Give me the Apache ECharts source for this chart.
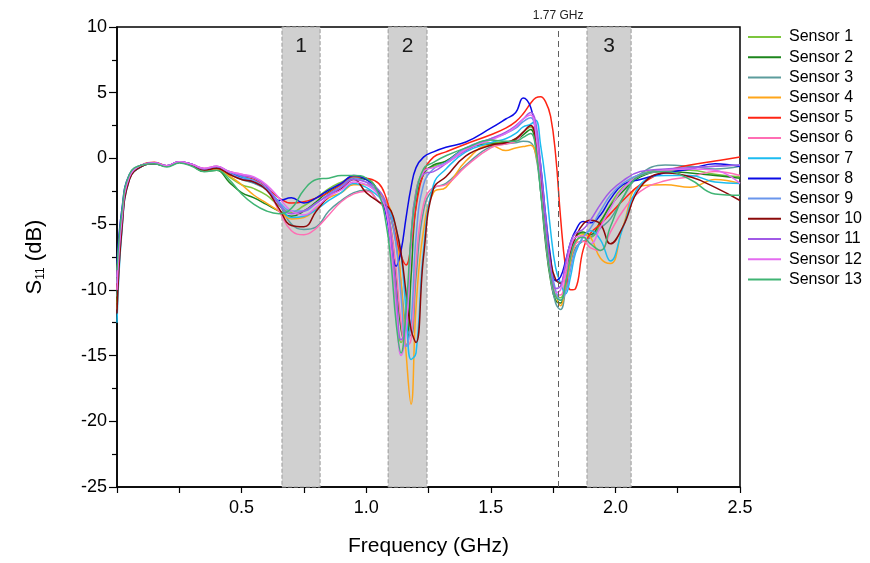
<!DOCTYPE html>
<html>
<head>
<meta charset="utf-8">
<script src="https://cdn.jsdelivr.net/npm/echarts@6/dist/echarts.min.js"></script>
<style>
html,body{margin:0;padding:0;background:#fff;}
#chart{width:870px;height:563px;}
</style>
</head>
<body>
<div id="chart"></div>
<script>
// Frequency grid (GHz)
const freq = [0, 0.02, 0.05, 0.1, 0.15, 0.2, 0.25, 0.3, 0.35, 0.4,
  0.45, 0.5, 0.55, 0.6, 0.65, 0.7, 0.75, 0.8, 0.85, 0.9,
  0.95, 1.0, 1.05, 1.08, 1.1, 1.12, 1.14, 1.16, 1.18, 1.2,
  1.23, 1.27, 1.32, 1.4, 1.5, 1.56, 1.6, 1.63, 1.66, 1.68,
  1.7, 1.72, 1.74, 1.76, 1.78, 1.8, 1.82, 1.84, 1.87, 1.9,
  1.94, 1.98, 2.03, 2.1, 2.2, 2.3, 2.4, 2.5];

// S11 (dB) per sensor
const sensor1 = [-9.5, -4.3, -1.3, -0.5, -0.35, -0.6, -0.3, -0.5, -0.9, -0.8,
  -1.4, -2.0, -2.3, -2.8, -3.6, -4.1, -3.6, -3.0, -2.3, -1.8,
  -1.4, -1.5, -2.6, -4.0, -6.5, -11.0, -14.0, -12.5, -6.0, -2.5,
  -1.0, -0.6, -0.2, 0.7, 1.2, 1.2, 1.5, 2.0, 2.4, 1.3,
  -2.0, -6.0, -9.0, -10.4, -10.6, -9.2, -7.2, -6.0, -5.7, -6.0,
  -5.0, -3.5, -2.2, -1.2, -0.9, -0.9, -1.2, -1.4];
const sensor2 = [-11, -5.0, -1.5, -0.6, -0.4, -0.6, -0.3, -0.55, -1.0, -0.9,
  -1.8, -2.6, -3.0, -3.5, -4.0, -4.4, -4.0, -3.3, -2.5, -2.0,
  -1.5, -1.6, -2.5, -3.8, -5.5, -9.0, -13.0, -14.3, -9.0, -3.5,
  -1.2, -0.5, -0.2, 0.8, 1.1, 1.2, 1.4, 1.8, 2.2, 1.0,
  -2.5, -6.5, -9.3, -10.8, -11.0, -9.5, -7.2, -6.0, -5.6, -5.8,
  -4.8, -3.6, -2.5, -1.4, -1.0, -1.1, -1.3, -1.5];
const sensor3 = [-10.5, -4.8, -1.4, -0.55, -0.4, -0.6, -0.3, -0.5, -0.9, -0.8,
  -1.2, -1.6, -1.9, -2.4, -3.5, -5.0, -5.4, -5.2, -4.0, -3.2,
  -2.6, -2.4, -3.3, -3.8, -4.6, -6.5, -9.5, -12.8, -13.5, -9.0,
  -4.0, -2.3, -1.9, -0.5, 0.9, 1.1, 1.2, 1.3, 1.2, 0.3,
  -2.5, -6.0, -9.0, -11.0, -11.5, -10.0, -8.0, -6.8, -6.3, -6.0,
  -5.3, -4.6, -3.0, -1.2, -0.5, -0.6, -0.8, -0.6];
const sensor4 = [-11.5, -5.2, -1.5, -0.55, -0.35, -0.6, -0.3, -0.5, -0.9, -0.8,
  -1.3, -2.0, -2.8, -3.4, -4.0, -4.6, -4.5, -3.8, -3.0, -2.6,
  -2.0, -2.0, -2.6, -3.3, -4.0, -5.5, -9.5, -14.8, -18.7, -11.3,
  -5.5, -2.6, -2.2, -0.2, 1.0, 0.6, 0.8, 0.9, 1.0, 0.4,
  -2.0, -5.5, -8.5, -10.3, -11.2, -9.8, -7.8, -6.5, -5.8, -6.0,
  -7.6, -8.0, -5.2, -2.1, -2.0, -2.2, -1.6, -1.9];
const sensor5 = [-10, -4.5, -1.3, -0.5, -0.3, -0.55, -0.25, -0.45, -0.8, -0.65,
  -1.1, -1.4, -1.6, -2.2, -3.0, -3.4, -3.3, -3.0, -2.6, -2.0,
  -1.4, -1.5, -1.9, -3.0, -4.5, -6.0, -7.4, -8.1, -6.6, -3.7,
  -1.1, 0.1, 0.5, 1.1, 1.8, 2.3, 2.8, 3.4, 4.2, 4.6,
  4.7, 4.3, 3.2, 0.3, -4.5, -8.3, -10.0, -9.9, -7.0, -5.7,
  -5.0, -4.2, -3.2, -2.0, -1.0, -0.5, -0.2, 0.1];
const sensor6 = [-9, -4.2, -1.3, -0.5, -0.35, -0.55, -0.25, -0.45, -0.75, -0.6,
  -1.0, -1.2, -1.5, -2.2, -4.0, -5.5, -5.8, -5.3, -4.3, -3.3,
  -2.7, -2.5, -3.3, -4.0, -5.5, -8.5, -12.5, -14.3, -13.8, -8.0,
  -3.5, -2.2, -2.0, -0.6, 0.8, 1.1, 1.3, 2.0, 2.5, 1.5,
  -1.5, -5.0, -8.5, -10.3, -10.4, -9.0, -7.5, -6.5, -6.3, -6.8,
  -7.0, -5.6, -4.0, -2.5, -1.7, -1.4, -1.0, -1.3];
const sensor7 = [-12.5, -5.5, -1.6, -0.6, -0.4, -0.6, -0.3, -0.5, -0.85, -0.7,
  -1.1, -1.4, -1.7, -2.3, -3.3, -4.5, -4.4, -3.9, -3.2, -2.6,
  -1.9, -2.2, -2.9, -3.6, -4.3, -5.3, -7.3, -11.5, -15.3, -14.8,
  -7.0, -2.0, -0.8, 0.5, 1.2, 1.5, 1.9, 2.4, 2.6, 2.9,
  1.0, -1.8, -5.5, -8.3, -9.5, -10.3, -9.0, -7.2, -6.0, -5.5,
  -6.2, -7.8, -5.3, -2.0, -1.3, -1.3, -1.8, -1.9];
const sensor8 = [-8, -3.8, -1.2, -0.5, -0.35, -0.55, -0.25, -0.45, -0.8, -0.7,
  -1.1, -1.5, -1.8, -2.3, -3.2, -3.0, -3.4, -3.0, -2.4, -1.9,
  -1.3, -1.6, -2.6, -4.3, -6.6, -8.2, -7.0, -4.5, -2.2, -0.7,
  0.1, 0.5, 0.85, 1.25, 2.3, 3.0, 3.5, 4.6, 3.9, 2.0,
  -0.5, -4.3, -7.5, -9.3, -9.0, -7.8, -6.4, -5.5, -4.8, -4.9,
  -4.3, -3.1, -2.0, -1.6, -1.1, -0.8, -0.4, -0.6];
const sensor9 = [-9.5, -4.4, -1.3, -0.5, -0.35, -0.55, -0.3, -0.5, -0.85, -0.7,
  -1.1, -1.5, -1.7, -2.3, -3.3, -4.0, -4.0, -3.4, -2.7, -2.1,
  -1.5, -1.8, -2.7, -3.5, -4.5, -6.5, -10.5, -14.3, -12.5, -6.0,
  -2.0, -0.8, -0.3, 0.8, 1.5, 1.9, 2.3, 2.8, 3.1, 2.2,
  -0.8, -4.5, -8.0, -10.0, -10.8, -10.2, -8.5, -7.0, -6.0, -5.3,
  -4.0, -2.8, -1.9, -1.2, -0.9, -0.7, -0.6, -0.5];
const sensor10 = [-11.8, -5.3, -1.6, -0.6, -0.4, -0.6, -0.3, -0.5, -0.9, -0.75,
  -1.2, -1.6, -1.8, -2.4, -3.8, -5.1, -5.2, -4.0, -2.9, -2.3,
  -1.6, -2.6, -3.3, -3.6, -4.0, -5.3, -7.2, -10.2, -13.0, -14.0,
  -7.5, -2.3, -1.4, 0.2, 1.0, 1.2, 1.5, 2.0, 2.5, 1.5,
  -1.5, -5.0, -7.8, -9.2, -9.5, -8.3, -7.0, -6.0, -5.0, -4.7,
  -5.0, -6.5, -5.2, -2.2, -1.1, -1.4, -2.2, -3.2];
const sensor11 = [-9, -4.2, -1.3, -0.5, -0.35, -0.55, -0.25, -0.45, -0.8, -0.6,
  -1.0, -1.3, -1.5, -2.1, -3.5, -4.2, -4.0, -3.4, -2.8, -2.2,
  -1.6, -1.8, -2.4, -3.5, -6.0, -10.0, -13.8, -13.0, -6.0, -2.5,
  -1.2, -1.0, -0.4, 0.6, 1.5, 2.0, 2.5, 3.0, 3.5, 2.8,
  -0.5, -4.8, -8.2, -9.9, -9.7, -8.0, -6.4, -5.7, -5.4, -4.7,
  -3.5, -2.5, -1.7, -1.0, -0.8, -0.7, -0.6, -0.5];
const sensor12 = [-10, -4.6, -1.4, -0.5, -0.35, -0.55, -0.25, -0.45, -0.75, -0.6,
  -1.0, -1.2, -1.4, -2.0, -3.0, -4.0, -4.3, -3.7, -2.9, -2.4,
  -1.8, -2.0, -2.8, -4.0, -7.0, -11.5, -15.0, -13.0, -6.5, -2.8,
  -1.0, -0.7, -0.4, 0.7, 1.4, 1.9, 2.4, 3.0, 3.3, 2.0,
  -2.0, -6.0, -9.0, -10.2, -10.0, -8.5, -6.8, -6.0, -5.9, -6.5,
  -5.2, -3.8, -2.3, -1.3, -0.9, -0.8, -0.9, -1.9];
const sensor13 = [-8.5, -4.0, -1.2, -0.5, -0.4, -0.65, -0.35, -0.6, -1.0, -0.9,
  -1.6, -2.7, -3.5, -4.0, -4.2, -3.8, -2.4, -1.6, -1.5, -1.3,
  -1.3, -1.5, -2.7, -5.0, -8.0, -12.5, -14.8, -11.5, -6.0, -2.8,
  -0.8, -0.3, 0.2, 0.8, 1.4, 1.3, 1.3, 1.6, 1.9, 0.8,
  -2.5, -6.0, -9.0, -10.5, -10.8, -9.5, -7.5, -6.3, -6.0, -6.5,
  -7.0, -5.2, -3.0, -1.3, -1.0, -1.6, -2.7, -2.8];

const sensorNames = ['Sensor 1','Sensor 2','Sensor 3','Sensor 4','Sensor 5','Sensor 6','Sensor 7',
  'Sensor 8','Sensor 9','Sensor 10','Sensor 11','Sensor 12','Sensor 13'];
const sensorValues = [sensor1, sensor2, sensor3, sensor4, sensor5, sensor6, sensor7,
  sensor8, sensor9, sensor10, sensor11, sensor12, sensor13];
const sensorColors = ['#7cc63e','#1c861c','#5c9c9c','#ffa61a','#ff2414','#ff6eb4','#1cbcf0',
  '#0a0ae6','#6a96ec','#8b0a0a','#a05ae6','#e46cf0','#40b474'];

// Highlighted bands (GHz) and marker
const bands = [[0.662, 0.815, '1'], [1.088, 1.244, '2'], [1.886, 2.063, '3']];
const markerFreq = 1.77;
const markerLabel = '1.77 GHz';

const FONT = '"Liberation Sans", Arial, sans-serif';

const series = sensorNames.map((name, k) => ({
  name: name,
  type: 'line',
  smooth: 0.45,
  symbol: 'none',
  z: 3,
  lineStyle: { width: 1.5, color: sensorColors[k] },
  itemStyle: { color: sensorColors[k] },
  data: freq.map((f, i) => [f, sensorValues[k][i]])
}));

series.unshift({
  name: 'bands',
  type: 'line',
  z: 1,
  data: [],
  silent: true,
  markArea: {
    silent: true,
    itemStyle: { color: '#d0d0d0', borderColor: '#9a9a9a', borderWidth: 1, borderType: 'dashed' },
    label: { show: true, position: 'insideTop', distance: 9, fontSize: 21, color: '#1a1a1a', fontFamily: FONT },
    data: bands.map(b => [{ xAxis: b[0], name: b[2] }, { xAxis: b[1] }])
  },
  markLine: {
    silent: true,
    symbol: 'none',
    lineStyle: { type: [6, 4], color: '#606060', width: 1 },
    label: { show: true, position: 'end', formatter: markerLabel, fontSize: 12, color: '#222', fontFamily: FONT, distance: 5 },
    data: [{ xAxis: markerFreq }]
  }
});

const chart = echarts.init(document.getElementById('chart'), null, { renderer: 'canvas' });
chart.setOption({
  animation: false,
  backgroundColor: '#fff',
  textStyle: { fontFamily: FONT },
  grid: { left: 117, right: 130, top: 27, bottom: 76, show: true, borderColor: '#000', borderWidth: 1.5, backgroundColor: 'transparent' },
  legend: {
    data: sensorNames,
    orient: 'vertical',
    left: 748,
    top: 29,
    padding: 0,
    itemGap: 4.2,
    itemWidth: 33,
    itemHeight: 14,
    icon: 'path://M0,6 L33,6 L33,8 L0,8 Z',
    textStyle: { fontSize: 16, lineHeight: 16, color: '#000', fontFamily: FONT, padding: [0, 0, 0, 3] }
  },
  xAxis: {
    type: 'value',
    min: 0, max: 2.5, interval: 0.25,
    name: 'Frequency (GHz)',
    nameLocation: 'middle',
    nameGap: 49,
    nameTextStyle: { fontSize: 21, color: '#000', fontFamily: FONT },
    axisLine: { onZero: false, lineStyle: { color: '#000', width: 1.5 } },
    axisTick: { show: true, length: 6, lineStyle: { color: '#000', width: 1.2 } },
    minorTick: { show: false },
    splitLine: { show: false },
    axisLabel: {
      fontSize: 18, color: '#000', margin: 12, fontFamily: FONT,
      formatter: v => (v > 0 && Math.abs(v * 2 - Math.round(v * 2)) < 1e-6) ? v.toFixed(1) : ''
    }
  },
  yAxis: {
    type: 'value',
    min: -25, max: 10, interval: 5,
    name: '{s|S}{sub|11}{s| (dB)}',
    nameLocation: 'middle',
    nameGap: 70,
    nameRotate: 90,
    nameTextStyle: {
      rich: {
        s: { fontSize: 22, color: '#000', fontFamily: FONT, lineHeight: 24 },
        sub: { fontSize: 12, color: '#000', fontFamily: FONT, verticalAlign: 'bottom', lineHeight: 14, padding: [10, 0, 0, 0] }
      }
    },
    axisLine: { show: true, onZero: false, lineStyle: { color: '#000', width: 1.5 } },
    axisTick: { show: true, length: 8, lineStyle: { color: '#000', width: 1.2 } },
    minorTick: { show: true, splitNumber: 2, length: 5, lineStyle: { color: '#000', width: 1.2 } },
    splitLine: { show: false },
    axisLabel: { fontSize: 18, color: '#000', margin: 10, fontFamily: FONT }
  },
  series: series
});
</script>
</body>
</html>
